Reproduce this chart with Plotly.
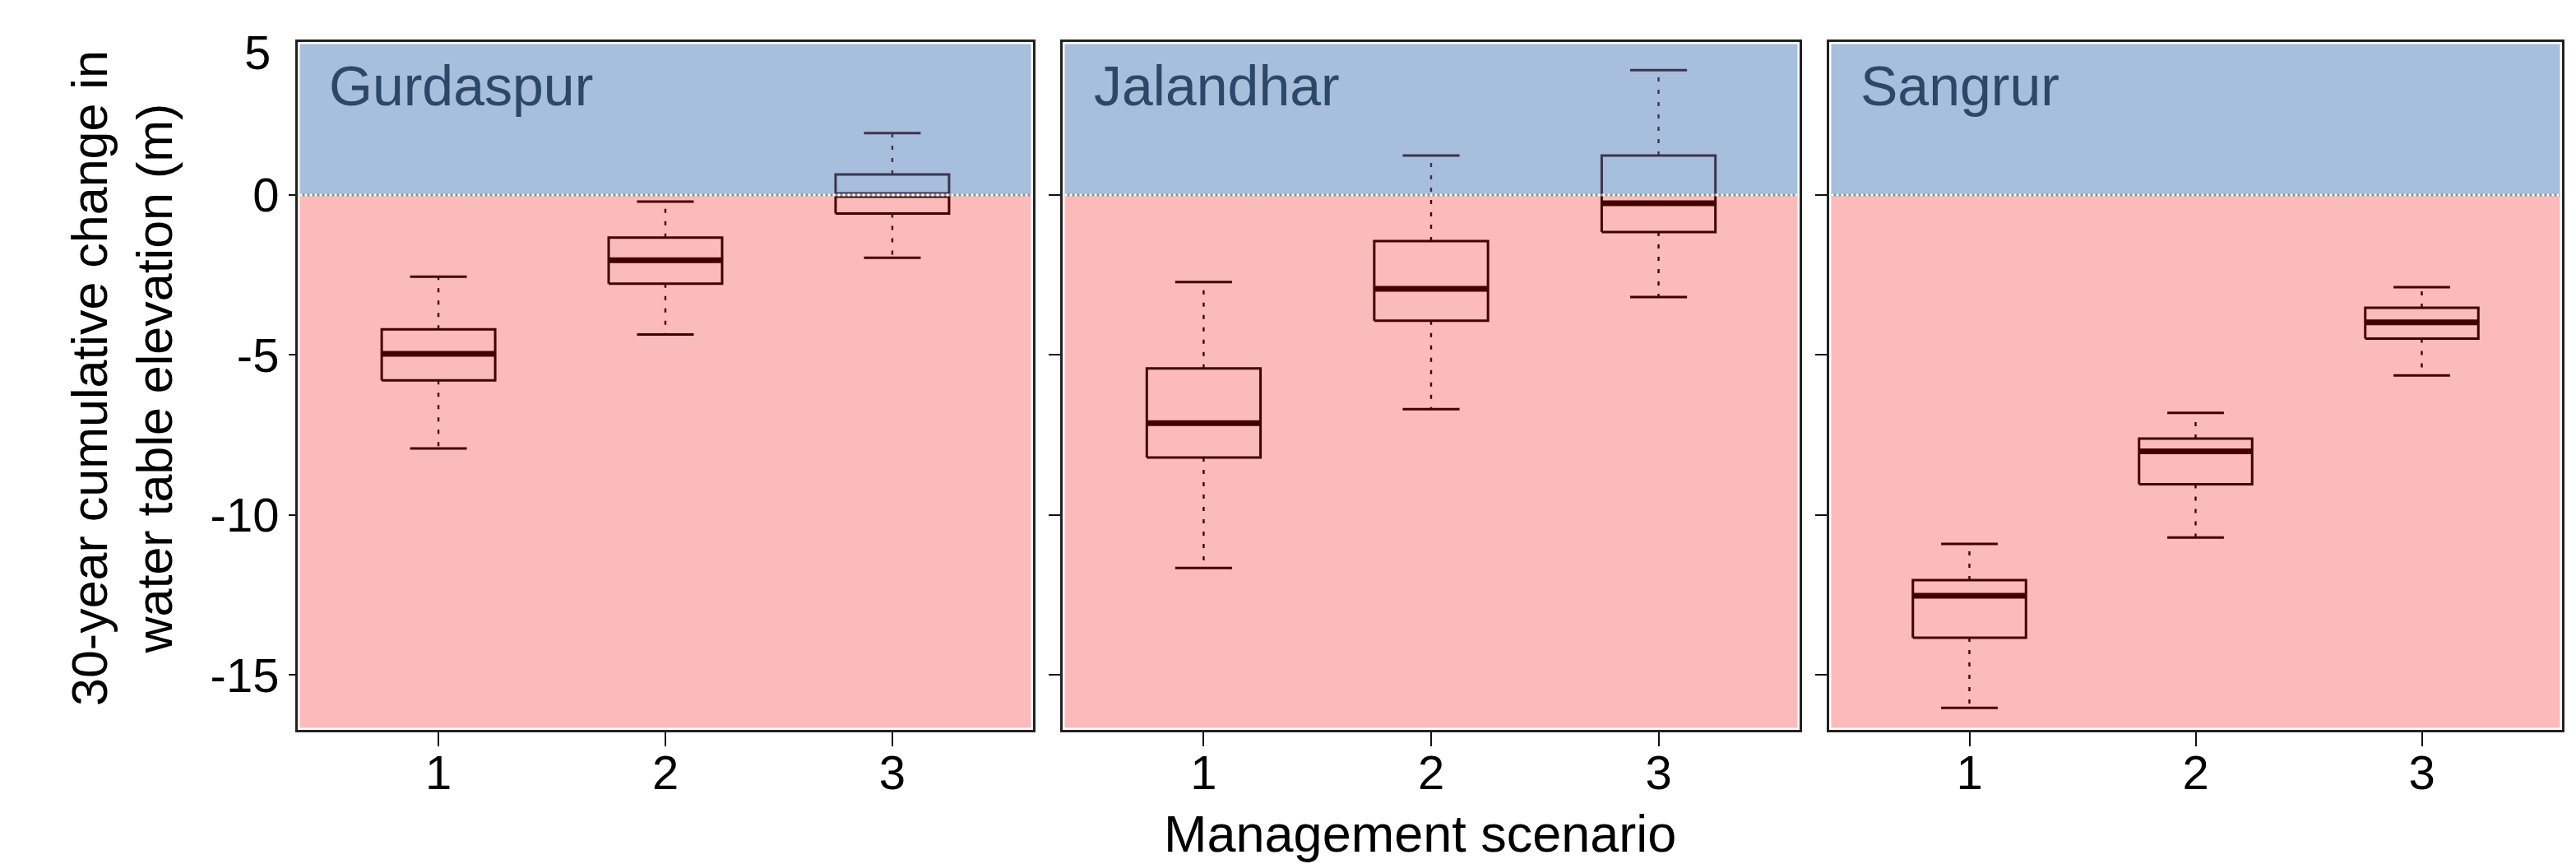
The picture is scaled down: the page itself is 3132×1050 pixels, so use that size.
import plotly.graph_objects as go

# ---------------- data ----------------
districts = ["Gurdaspur", "Jalandhar", "Sangrur"]
scenarios = [1, 2, 3]
x_tick_labels = ["1", "2", "3"]
y_tick_values = [-15, -10, -5, 0]
y_tick_labels = ["-15", "-10", "-5", "0"]

# rows = districts, columns = scenarios 1..3
lower_whisker = [[-7.92, -4.36, -1.96], [-11.65, -6.69, -3.19], [-16.02, -10.70, -5.64]]
q1 = [[-5.79, -2.77, -0.58], [-8.20, -3.93, -1.16], [-13.83, -9.04, -4.49]]
median = [[-4.96, -2.04, 0.00], [-7.13, -2.93, -0.26], [-12.52, -8.01, -3.98]]
q3 = [[-4.20, -1.33, 0.64], [-5.42, -1.44, 1.23], [-12.03, -7.61, -3.52]]
upper_whisker = [[-2.55, -0.21, 1.93], [-2.72, 1.23, 3.90], [-10.90, -6.81, -2.88]]

# ---------------- layout constants ----------------
W, H = 3132, 1050
panel_px = [(362, 1256), (1292, 2188), (2224, 3115)]
y_top_px, y_bot_px = 51, 887
YMIN, YMAX = -16.71, 4.78
XMIN, XMAX = 0.38, 3.62
BOX_HALF = 0.25
CAP_HALF = 0.125

FONT = "Liberation Sans, Arial, Helvetica, sans-serif"
LINE_COL = "#420000"
PINK = "#FCBBBB"
BLUE_OVER = "rgba(59,110,177,0.45)"
LABEL_COL = "#2D4769"

fig = go.Figure()

for i, name in enumerate(districts):
    ax = "" if i == 0 else str(i + 1)
    xa, ya = "x" + ax, "y" + ax

    bx, by, mx, my, wx, wy, cx, cy = [], [], [], [], [], [], [], []
    for j, s in enumerate(scenarios):
        lo, a, m, b, hi = lower_whisker[i][j], q1[i][j], median[i][j], q3[i][j], upper_whisker[i][j]
        bx += [s - BOX_HALF, s + BOX_HALF, s + BOX_HALF, s - BOX_HALF, s - BOX_HALF, None]
        by += [a, a, b, b, a, None]
        mx += [s - BOX_HALF, s + BOX_HALF, None]
        my += [m, m, None]
        wx += [s, s, None, s, s, None]
        wy += [b, hi, None, a, lo, None]
        cx += [s - CAP_HALF, s + CAP_HALF, None, s - CAP_HALF, s + CAP_HALF, None]
        cy += [hi, hi, None, lo, lo, None]

    common = dict(xaxis=xa, yaxis=ya, mode="lines", showlegend=False, hoverinfo="skip")
    fig.add_trace(go.Scatter(x=wx, y=wy, line=dict(color=LINE_COL, width=2.4, dash="5px,10px"), **common))
    fig.add_trace(go.Scatter(x=cx, y=cy, line=dict(color=LINE_COL, width=3), **common))
    fig.add_trace(go.Scatter(x=bx, y=by, line=dict(color=LINE_COL, width=3), **common))
    fig.add_trace(go.Scatter(x=mx, y=my, line=dict(color=LINE_COL, width=7), **common))

    x0p, x1p = panel_px[i]
    axis_line = dict(showline=True, mirror=True, linecolor="#222222", linewidth=3,
                     showgrid=False, zeroline=False)
    fig.update_layout(**{
        ("xaxis" + ax): dict(domain=[x0p / W, x1p / W], range=[XMIN, XMAX], anchor=ya,
                             tickmode="array", tickvals=scenarios, ticktext=x_tick_labels,
                             ticks="outside", ticklen=17, tickwidth=2, tickcolor="#111111",
                             ticklabelstandoff=-18,
                             tickfont=dict(family=FONT, size=58, color="black"), **axis_line),
        ("yaxis" + ax): dict(domain=[1 - y_bot_px / H, 1 - y_top_px / H], range=[YMIN, YMAX], anchor=xa,
                             tickmode="array", tickvals=y_tick_values, ticktext=y_tick_labels,
                             ticks="outside", ticklen=8 if i == 0 else 14, tickwidth=2, tickcolor="#111111",
                             showticklabels=(i == 0),
                             tickfont=dict(family=FONT, size=58, color="black"), **axis_line),
    })

    inset_x = 2.5 / (x1p - x0p)
    inset_y = 2.5 * (YMAX - YMIN) / (y_bot_px - y_top_px)
    fig.add_shape(type="rect", layer="below", xref=xa + " domain", yref=ya,
                  x0=inset_x, x1=1 - inset_x, y0=YMIN + inset_y, y1=0,
                  fillcolor=PINK, line=dict(width=0))
    fig.add_shape(type="rect", layer="above", xref=xa + " domain", yref=ya,
                  x0=inset_x, x1=1 - inset_x, y0=0, y1=YMAX - inset_y,
                  fillcolor=BLUE_OVER, line=dict(width=0))
    fig.add_shape(type="line", layer="above", xref=xa + " domain", yref=ya,
                  x0=inset_x, x1=1 - inset_x, y0=0, y1=0,
                  line=dict(color="#8f8f8f", width=3))
    fig.add_shape(type="line", layer="above", xref=xa + " domain", yref=ya,
                  x0=inset_x, x1=1 - inset_x, y0=0, y1=0,
                  line=dict(color="white", width=3, dash="dot"))

    fig.add_annotation(text=name, xref=xa + " domain", yref="paper",
                       x=36 / (x1p - x0p), y=1 - 104 / H, xanchor="left", yanchor="middle",
                       showarrow=False, font=dict(family=FONT, size=68, color=LABEL_COL))

# top "5" tick label as printed in the reference
fig.add_annotation(text="5", xref="paper", yref="paper", x=331 / W, y=1 - 63 / H,
                   xanchor="right", yanchor="middle", showarrow=False,
                   font=dict(family=FONT, size=58, color="black"))

fig.add_annotation(text="30-year cumulative change in<br>water table elevation (m)",
                   xref="paper", yref="paper", x=148 / W, y=1 - 460 / H,
                   xanchor="center", yanchor="middle", textangle=-90, showarrow=False,
                   font=dict(family=FONT, size=61, color="black"))

fig.add_annotation(text="Management scenario", xref="paper", yref="paper",
                   x=1726 / W, y=1 - 1013 / H, xanchor="center", yanchor="middle",
                   showarrow=False, font=dict(family=FONT, size=63, color="black"))

fig.update_layout(width=W, height=H, margin=dict(l=0, r=0, t=0, b=0),
                  paper_bgcolor="white", plot_bgcolor="white",
                  font=dict(family=FONT, color="black"))

fig.write_html("out.html", config={"displayModeBar": False},
               post_script="document.body.style.margin='0';document.body.style.padding='0';"
                           "document.documentElement.style.overflow='hidden';")
